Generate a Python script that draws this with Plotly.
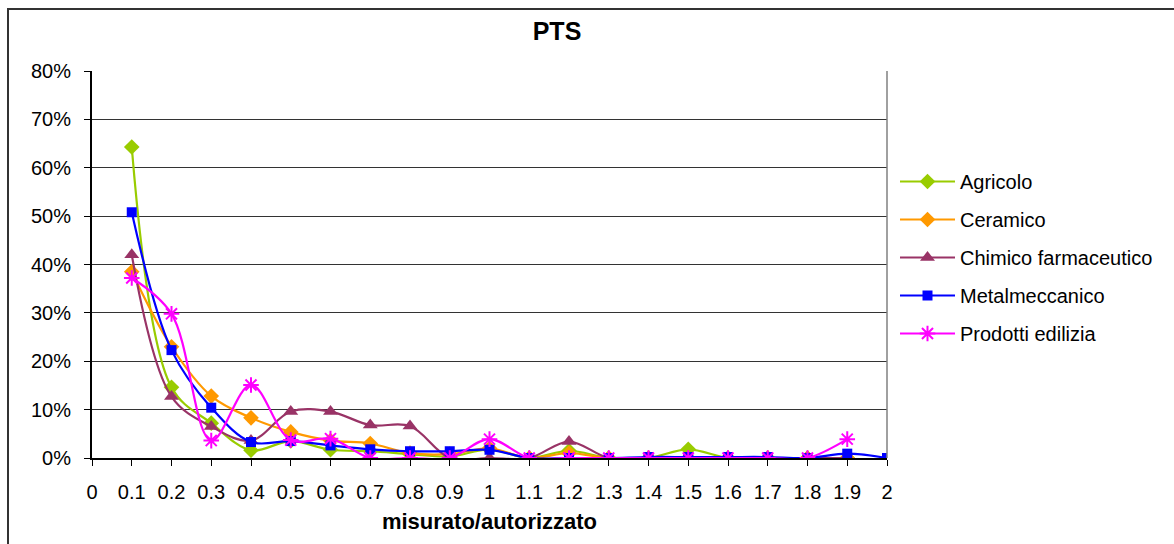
import plotly.graph_objects as go

# ratio measured/authorised (x) and share of samples (%) per sector
x_vals = [0.1, 0.2, 0.3, 0.4, 0.5, 0.6, 0.7, 0.8, 0.9, 1.0,
          1.1, 1.2, 1.3, 1.4, 1.5, 1.6, 1.7, 1.8, 1.9, 2.0]

agricolo = [64.3, 14.6, 7.2, 1.6, 3.5, 1.7, 1.4, 0.8, 0.3, 1.8,
            0, 1.5, 0, 0, 1.8, 0, 0, 0, 0, None]
ceramico = [38.5, 23.0, 12.8, 8.3, 5.4, 3.6, 3.0, 1.0, 0.8, 2.0,
            0, 1.0, 0, 0, 0, 0, 0, 0, 0, None]
chimico = [42.0, 12.7, 6.5, 3.6, 9.6, 9.6, 6.8, 6.6, 0, 0,
           0, 3.4, 0, 0, 0, 0, 0, 0, 0, None]
metalmeccanico = [50.8, 22.3, 10.4, 3.3, 3.5, 2.6, 1.8, 1.4, 1.4, 1.7,
                  0, 0, 0, 0.2, 0.2, 0.2, 0.2, 0, 0.9, 0]
prodotti = [37.2, 29.8, 3.6, 15.1, 3.7, 4.0, 0, 0, 0, 3.9,
            0, 0, 0, 0, 0, 0, 0, 0, 3.9, None]

x_tick_vals = [0, 0.1, 0.2, 0.3, 0.4, 0.5, 0.6, 0.7, 0.8, 0.9, 1.0,
               1.1, 1.2, 1.3, 1.4, 1.5, 1.6, 1.7, 1.8, 1.9, 2.0]
x_tick_text = ["0", "0.1", "0.2", "0.3", "0.4", "0.5", "0.6", "0.7", "0.8", "0.9", "1",
               "1.1", "1.2", "1.3", "1.4", "1.5", "1.6", "1.7", "1.8", "1.9", "2"]
y_tick_vals = [0, 10, 20, 30, 40, 50, 60, 70, 80]
y_tick_text = ["0%", "10%", "20%", "30%", "40%", "50%", "60%", "70%", "80%"]

FONT = "Arial, Liberation Sans, sans-serif"

series = [
    ("Agricolo", agricolo, "#99CC00", "diamond", 12),
    ("Ceramico", ceramico, "#FF9900", "diamond", 12),
    ("Chimico farmaceutico", chimico, "#993366", "triangle-up", 13),
    ("Metalmeccanico", metalmeccanico, "#0000FF", "square", 10),
    ("Prodotti edilizia", prodotti, "#FF00FF", "asterisk-open", 13),
]

fig = go.Figure()
for name, vals, color, symbol, size in series:
    marker = dict(symbol=symbol, size=size, color=color)
    if symbol.endswith("open"):
        marker["line"] = dict(color=color, width=2)
    else:
        marker["line"] = dict(width=0)
    fig.add_trace(go.Scatter(
        x=x_vals, y=vals, name=name, mode="lines+markers",
        line=dict(color=color, width=2.2, shape="spline", smoothing=1),
        marker=marker, legendgroup=name, connectgaps=False,
    ))

L, R, T, B = 92, 887, 71, 458
W, H = 1174, 544
pw, ph = R - L, B - T

def px_x(p):
    return (p - L) / pw

def px_y(p):
    return (B - p) / ph

fig.update_layout(
    width=W, height=H,
    margin=dict(l=L, r=W - R, t=T, b=H - B, pad=0),
    paper_bgcolor="white", plot_bgcolor="white",
    font=dict(family=FONT, size=20, color="black"),
    title=dict(text="<b>PTS</b>", xref="container", x=557 / W, xanchor="center",
               yref="container", y=1 - 31 / H, yanchor="middle",
               font=dict(size=25)),
    showlegend=True,
    legend=dict(x=px_x(895), xanchor="left", y=px_y(162), yanchor="top",
                bgcolor="rgba(0,0,0,0)", borderwidth=0,
                tracegroupgap=9, itemwidth=55, font=dict(size=20)),
    xaxis=dict(range=[0, 2], tickvals=x_tick_vals, ticktext=x_tick_text,
               showgrid=False, zeroline=False, showline=True,
               linecolor="black", linewidth=2, ticks="outside", ticklen=6,
               tickcolor="black", tickwidth=1, ticklabelstandoff=9,
               title=dict(text="<b>misurato/autorizzato</b>", standoff=12,
                          font=dict(size=22))),
    yaxis=dict(range=[0, 80], tickvals=y_tick_vals, ticktext=y_tick_text,
               showgrid=True, gridcolor="#333333", gridwidth=1,
               zeroline=False, showline=True, linecolor="black", linewidth=2,
               ticks="outside", ticklen=6, tickcolor="black", tickwidth=1,
               ticklabelstandoff=9),
    shapes=[
        # right edge of the plot area
        dict(type="line", xref="paper", yref="paper", x0=1, x1=1, y0=0, y1=1,
             line=dict(color="#808080", width=1.5)),
        # chart area frame
        dict(type="rect", xref="paper", yref="paper",
             x0=px_x(8), x1=px_x(1180), y0=px_y(550), y1=px_y(9),
             line=dict(color="#333333", width=2), layer="above"),
    ],
)

fig.write_html("out.html")
